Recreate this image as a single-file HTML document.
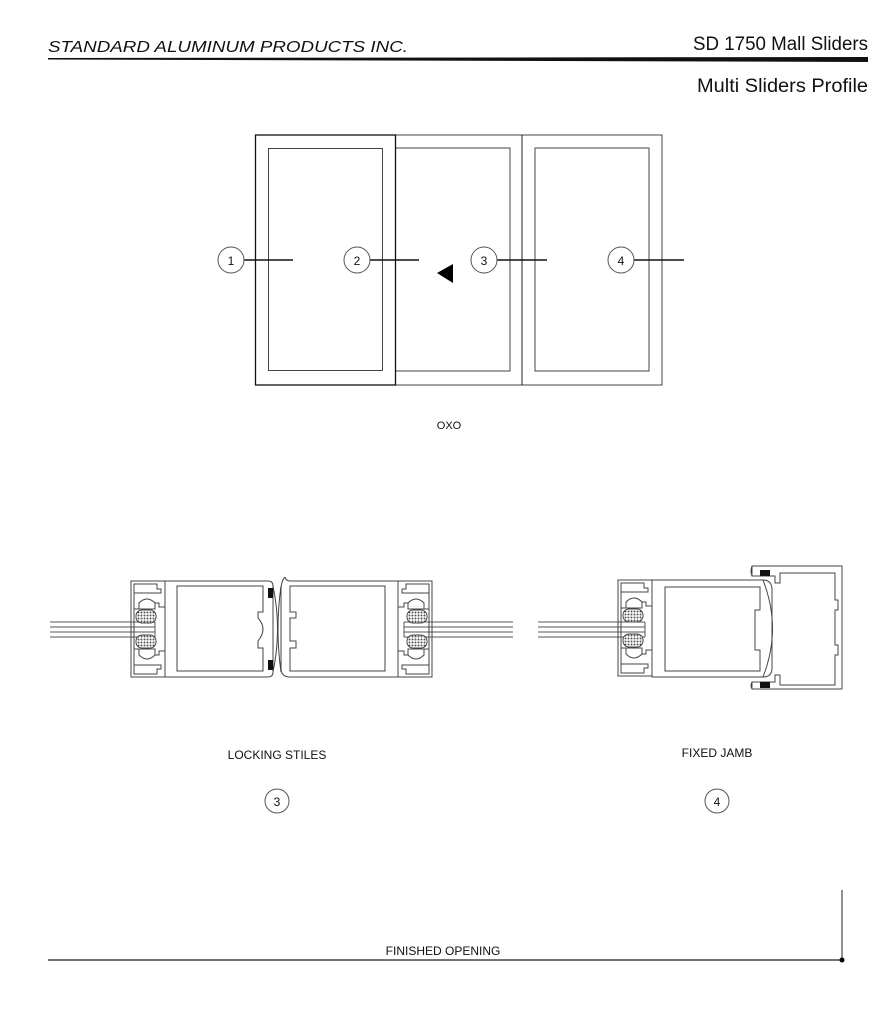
<!DOCTYPE html>
<html><head><meta charset="utf-8"><style>
html,body{margin:0;padding:0;background:#fff;}
svg{display:block;}
text{font-family:"Liberation Sans",sans-serif;fill:#111;}
</style></head><body>
<svg width="893" height="1024" viewBox="0 0 893 1024" xmlns="http://www.w3.org/2000/svg">
<defs>
<pattern id="hatch" width="3" height="3" patternUnits="userSpaceOnUse">
<rect width="3" height="3" fill="#fff"/><circle cx="1.5" cy="1.5" r="1" fill="#555"/>
</pattern>
<g id="bead" fill="none" stroke="#444" stroke-width="1">
<!-- glazing frame in local coords, width 34, height 96 -->
<path d="M0,0 H34 V96 H0 Z"/>
<path d="M3,3 H26 V8 H30 V12 H3 Z"/>
<path d="M3,84 H30 V88 H26 V93 H3 Z"/>
<path d="M3,12 V84"/>
<path d="M3,28 H24 V22 H28 V26 H34"/>
<path d="M3,68 H24 V74 H28 V70 H34"/>
<path d="M8,22 Q16,14 24,22 V28 H8 Z"/>
<path d="M8,74 Q16,82 24,74 V68 H8 Z"/>
<rect x="5" y="29" width="20" height="13" rx="6" fill="url(#hatch)"/>
<rect x="5" y="54" width="20" height="13" rx="6" fill="url(#hatch)"/>
</g>
</defs>

<!-- Header -->
<text x="48" y="52" font-size="16" font-style="italic" textLength="360" lengthAdjust="spacingAndGlyphs">STANDARD ALUMINUM PRODUCTS INC.</text>
<text x="693" y="50" font-size="19" textLength="175" lengthAdjust="spacingAndGlyphs">SD 1750 Mall Sliders</text>
<polygon points="48,58 868,57 868,62 48,59.5" fill="#111"/>
<text x="697" y="92" font-size="19" textLength="171" lengthAdjust="spacingAndGlyphs">Multi Sliders Profile</text>

<!-- Elevation -->
<g fill="none" stroke="#444" stroke-width="1">
<rect x="395" y="135" width="267" height="250"/>
<rect x="395" y="148" width="115" height="223"/>
<line x1="522" y1="135" x2="522" y2="385" stroke="#222"/>
<rect x="535" y="148" width="114" height="223"/>
</g>
<rect x="255.5" y="135" width="140" height="250" fill="#fff" stroke="#111" stroke-width="1.3"/>
<rect x="268.5" y="148.5" width="114" height="222" fill="none" stroke="#444"/>

<g stroke="#111" stroke-width="1.5">
<line x1="244" y1="260" x2="293" y2="260"/>
<line x1="370" y1="260" x2="419" y2="260"/>
<line x1="497" y1="260" x2="547" y2="260"/>
<line x1="634" y1="260" x2="684" y2="260"/>
</g>
<g fill="#fff" stroke="#555" stroke-width="1">
<circle cx="231" cy="260" r="13"/><circle cx="357" cy="260" r="13"/>
<circle cx="484" cy="260" r="13"/><circle cx="621" cy="260" r="13"/>
</g>
<g font-size="12" text-anchor="middle">
<text x="231" y="265">1</text><text x="357" y="265">2</text>
<text x="484" y="265">3</text><text x="621" y="265">4</text>
</g>
<polygon points="437,273 453,264 453,283" fill="#000"/>
<text x="449" y="429" font-size="11" text-anchor="middle">OXO</text>

<!-- Locking stiles -->
<g stroke="#555" stroke-width="1">
<line x1="50" y1="622" x2="155" y2="622"/><line x1="50" y1="627" x2="155" y2="627"/>
<line x1="50" y1="632" x2="155" y2="632"/><line x1="50" y1="637" x2="155" y2="637"/>
<line x1="404" y1="622" x2="513" y2="622"/><line x1="404" y1="627" x2="513" y2="627"/>
<line x1="404" y1="632" x2="513" y2="632"/><line x1="404" y1="637" x2="513" y2="637"/>
<line x1="155" y1="622" x2="155" y2="637"/><line x1="404" y1="622" x2="404" y2="637"/>
</g>
<use href="#bead" x="131" y="581"/>
<g fill="none" stroke="#444" stroke-width="1">
<path d="M165,581 H268 Q273,581 273,586 V672 Q273,677 268,677 H165 Z"/>
<path d="M177,586 H263 V612 H258 V618 Q268,629 258,641 V648 H263 V671 H177 Z"/>
<path d="M273,586 Q282,629 273,672"/>
<path d="M285,577 Q281,581 281,590 V668 Q281,677 290,677 H398 V581 H290 Q286,581 285,577"/>
<path d="M290,586 H385 V671 H290 V648 H296 V641 H290 V618 H296 V612 H290 Z"/>
<path d="M281,586 Q275,629 281,672"/>
</g>
<rect x="268" y="588" width="5" height="10" fill="#111"/>
<rect x="268" y="660" width="5" height="10" fill="#111"/>
<g transform="translate(432,581) scale(-1,1)"><use href="#bead"/></g>

<!-- Fixed jamb -->
<g stroke="#555" stroke-width="1">
<line x1="538" y1="622" x2="645" y2="622"/><line x1="538" y1="627" x2="645" y2="627"/>
<line x1="538" y1="632" x2="645" y2="632"/><line x1="538" y1="637" x2="645" y2="637"/>
<line x1="645" y1="622" x2="645" y2="637"/>
</g>
<use href="#bead" x="618" y="580"/>
<g fill="none" stroke="#444" stroke-width="1">
<path d="M652,580 H763 Q772,580 772,590 V668 Q772,677 763,677 H652 Z"/>
<path d="M665,587 H760 V610 H755 V650 H760 V671 H665 Z"/>
<path d="M763,580 Q782,629 763,677"/>
<path d="M752,566 H842 V689 H752 V682 H775 V675 H780 V685 H835 V655 H838 V645 H835 V610 H838 V600 H835 V573 H780 V583 H775 V576 H752 Z"/>
<path d="M752,566 Q750,571 752,576"/><path d="M752,682 Q750,686 752,689"/>
</g>
<rect x="760" y="570" width="10" height="6" fill="#111"/>
<rect x="760" y="682" width="10" height="6" fill="#111"/>

<text x="277" y="759" font-size="12" text-anchor="middle">LOCKING STILES</text>
<text x="717" y="757" font-size="12" text-anchor="middle">FIXED JAMB</text>
<g fill="#fff" stroke="#555"><circle cx="277" cy="801" r="12"/><circle cx="717" cy="801" r="12"/></g>
<text x="277" y="806" font-size="12" text-anchor="middle">3</text>
<text x="717" y="806" font-size="12" text-anchor="middle">4</text>

<!-- Finished opening -->
<text x="443" y="955" font-size="12" text-anchor="middle">FINISHED OPENING</text>
<line x1="48" y1="960" x2="842" y2="960" stroke="#222" stroke-width="1.2"/>
<line x1="842" y1="890" x2="842" y2="960" stroke="#222" stroke-width="1"/>
<circle cx="842" cy="960" r="2.5" fill="#000"/>
</svg>
</body></html>
